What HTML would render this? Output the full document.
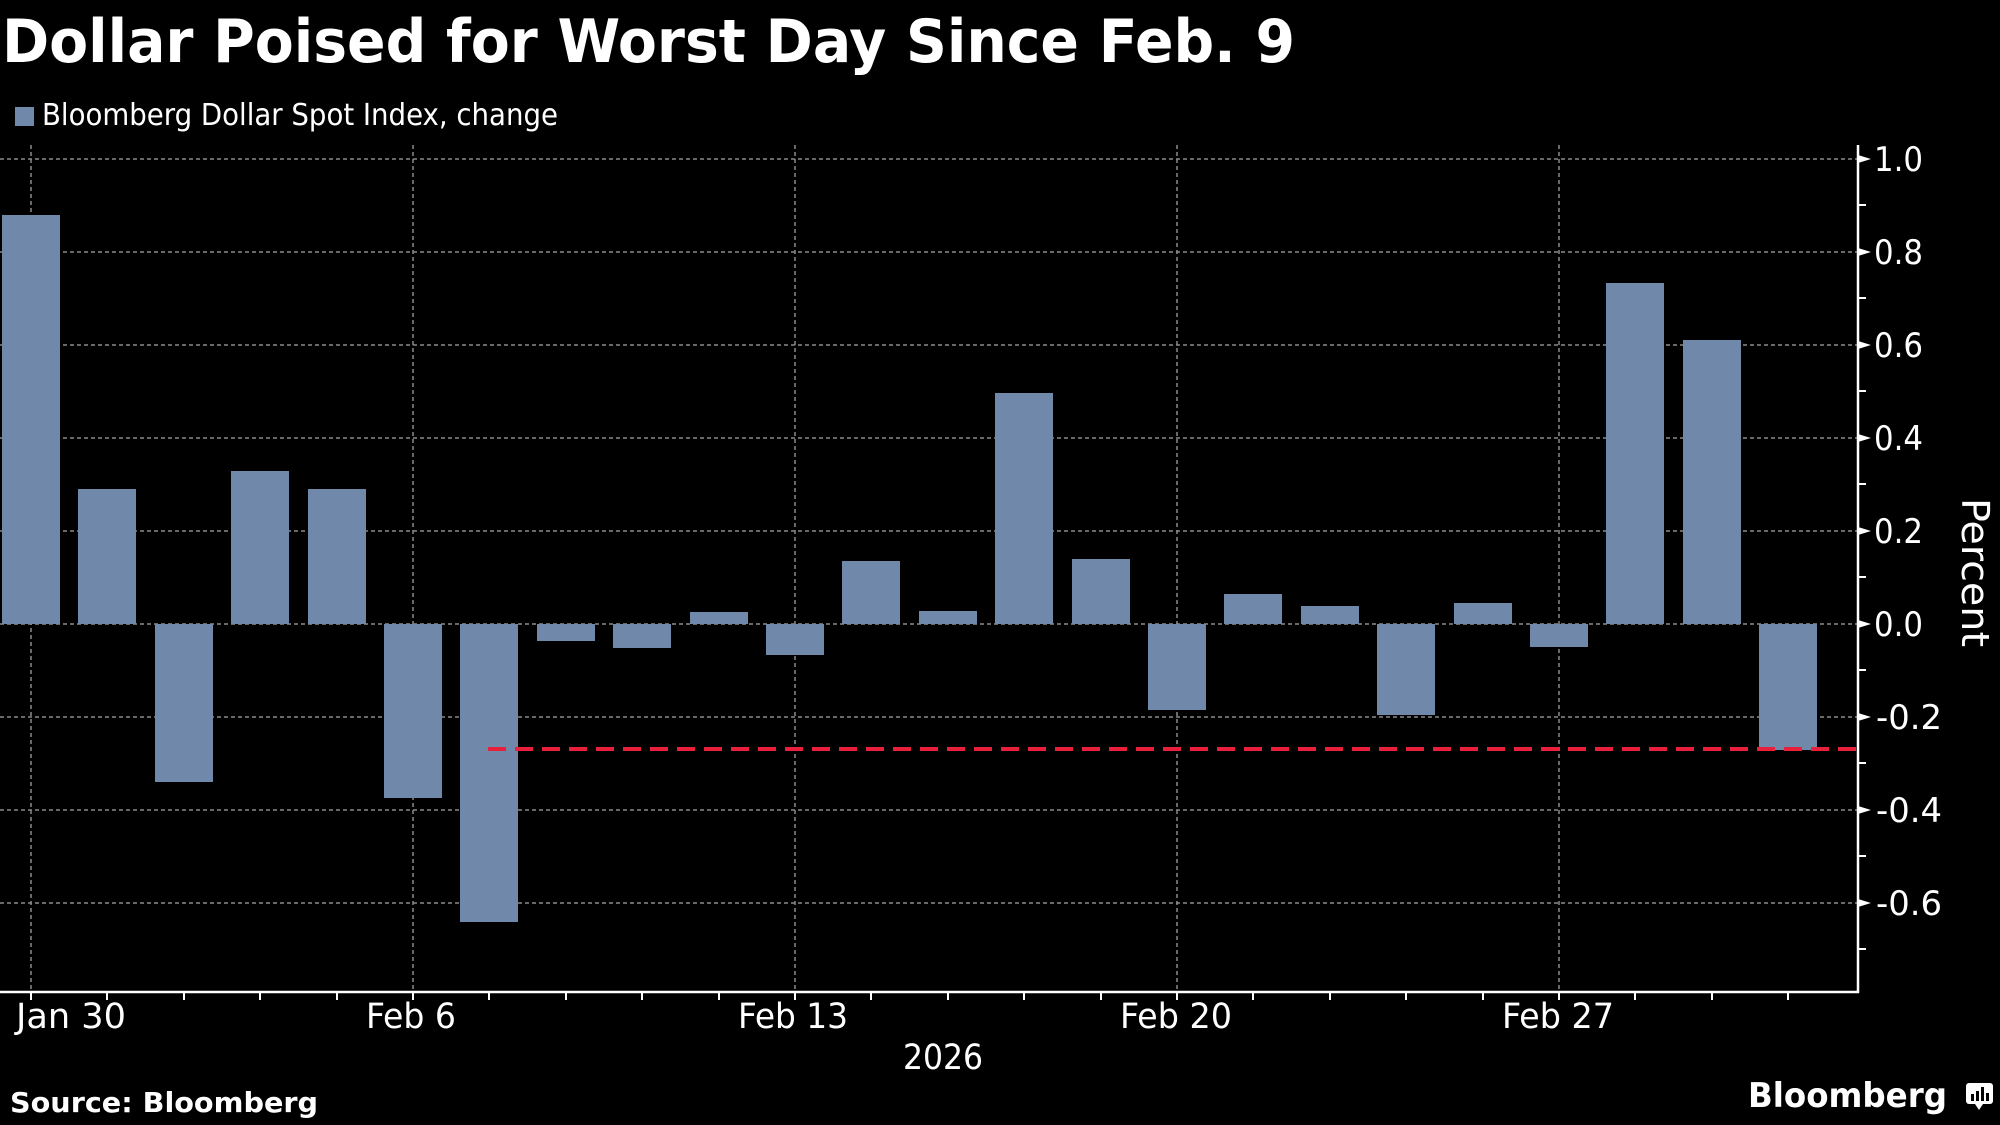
<!DOCTYPE html>
<html><head><meta charset="utf-8"><style>
html,body{margin:0;padding:0;background:#000;}
svg{display:block}
text{font-family:"DejaVu Sans Condensed","Liberation Sans Narrow","Liberation Sans",sans-serif;fill:#fff}
</style></head><body>
<svg width="2000" height="1125" viewBox="0 0 2000 1125" xmlns="http://www.w3.org/2000/svg">
<rect width="2000" height="1125" fill="#000"/>
<text x="2" y="62" font-size="60" font-weight="bold" textLength="1293" lengthAdjust="spacingAndGlyphs">Dollar Poised for Worst Day Since Feb. 9</text>
<rect x="15" y="107" width="19" height="19" fill="#7089ab"/>
<text x="42" y="125" font-size="30" textLength="516" lengthAdjust="spacingAndGlyphs">Bloomberg Dollar Spot Index, change</text>
<g stroke="#8a8a8a" stroke-width="1.5" stroke-dasharray="4,3">
<line x1="0" y1="159" x2="1858" y2="159"/><line x1="0" y1="252" x2="1858" y2="252"/>
<line x1="0" y1="345" x2="1858" y2="345"/><line x1="0" y1="438" x2="1858" y2="438"/>
<line x1="0" y1="531" x2="1858" y2="531"/><line x1="0" y1="624" x2="1858" y2="624"/>
<line x1="0" y1="717" x2="1858" y2="717"/><line x1="0" y1="810" x2="1858" y2="810"/>
<line x1="0" y1="903" x2="1858" y2="903"/>
<line x1="31" y1="145" x2="31" y2="992"/><line x1="413" y1="145" x2="413" y2="992"/>
<line x1="795" y1="145" x2="795" y2="992"/><line x1="1177" y1="145" x2="1177" y2="992"/>
<line x1="1559" y1="145" x2="1559" y2="992"/>
</g>
<g fill="#7089ab">
<rect x="2" y="215" width="58" height="409"/>
<rect x="78" y="489" width="58" height="135"/>
<rect x="155" y="624" width="58" height="158"/>
<rect x="231" y="471" width="58" height="153"/>
<rect x="308" y="489" width="58" height="135"/>
<rect x="384" y="624" width="58" height="174"/>
<rect x="460" y="624" width="58" height="298"/>
<rect x="537" y="624" width="58" height="17"/>
<rect x="613" y="624" width="58" height="24"/>
<rect x="690" y="612" width="58" height="12"/>
<rect x="766" y="624" width="58" height="31"/>
<rect x="842" y="561" width="58" height="63"/>
<rect x="919" y="611" width="58" height="13"/>
<rect x="995" y="393" width="58" height="231"/>
<rect x="1072" y="559" width="58" height="65"/>
<rect x="1148" y="624" width="58" height="86"/>
<rect x="1224" y="594" width="58" height="30"/>
<rect x="1301" y="606" width="58" height="18"/>
<rect x="1377" y="624" width="58" height="91"/>
<rect x="1454" y="603" width="58" height="21"/>
<rect x="1530" y="624" width="58" height="23"/>
<rect x="1606" y="283" width="58" height="341"/>
<rect x="1683" y="340" width="58" height="284"/>
<rect x="1759" y="624" width="58" height="126"/>
</g>
<line x1="488" y1="749" x2="1858" y2="749" stroke="#e8203c" stroke-width="4" stroke-dasharray="18,9"/>
<g stroke="#fff" stroke-width="2.5">
<line x1="0" y1="992" x2="1859" y2="992"/>
<line x1="1858" y1="145" x2="1858" y2="993"/>
</g>
<g stroke="#fff" stroke-width="2">
<line x1="31" y1="992" x2="31" y2="1000"/><line x1="107" y1="992" x2="107" y2="1000"/><line x1="184" y1="992" x2="184" y2="1000"/><line x1="260" y1="992" x2="260" y2="1000"/><line x1="337" y1="992" x2="337" y2="1000"/><line x1="413" y1="992" x2="413" y2="1000"/><line x1="489" y1="992" x2="489" y2="1000"/><line x1="566" y1="992" x2="566" y2="1000"/><line x1="642" y1="992" x2="642" y2="1000"/><line x1="719" y1="992" x2="719" y2="1000"/><line x1="795" y1="992" x2="795" y2="1000"/><line x1="871" y1="992" x2="871" y2="1000"/><line x1="948" y1="992" x2="948" y2="1000"/><line x1="1024" y1="992" x2="1024" y2="1000"/><line x1="1101" y1="992" x2="1101" y2="1000"/><line x1="1177" y1="992" x2="1177" y2="1000"/><line x1="1253" y1="992" x2="1253" y2="1000"/><line x1="1330" y1="992" x2="1330" y2="1000"/><line x1="1406" y1="992" x2="1406" y2="1000"/><line x1="1483" y1="992" x2="1483" y2="1000"/><line x1="1559" y1="992" x2="1559" y2="1000"/><line x1="1635" y1="992" x2="1635" y2="1000"/><line x1="1712" y1="992" x2="1712" y2="1000"/><line x1="1788" y1="992" x2="1788" y2="1000"/>
<line x1="1858" y1="205" x2="1866" y2="205"/><line x1="1858" y1="298" x2="1866" y2="298"/><line x1="1858" y1="391" x2="1866" y2="391"/><line x1="1858" y1="484" x2="1866" y2="484"/><line x1="1858" y1="577" x2="1866" y2="577"/><line x1="1858" y1="670" x2="1866" y2="670"/><line x1="1858" y1="763" x2="1866" y2="763"/><line x1="1858" y1="856" x2="1866" y2="856"/><line x1="1858" y1="949" x2="1866" y2="949"/>
</g>
<g fill="#fff">
<polygon points="1858,155 1871,159 1858,163"/><polygon points="1858,248 1871,252 1858,256"/><polygon points="1858,341 1871,345 1858,349"/><polygon points="1858,434 1871,438 1858,442"/><polygon points="1858,527 1871,531 1858,535"/><polygon points="1858,620 1871,624 1858,628"/><polygon points="1858,713 1871,717 1858,721"/><polygon points="1858,806 1871,810 1858,814"/><polygon points="1858,899 1871,903 1858,907"/>
</g>
<g font-size="34">
<text x="1874" y="171" textLength="49" lengthAdjust="spacingAndGlyphs">1.0</text>
<text x="1874" y="264" textLength="49" lengthAdjust="spacingAndGlyphs">0.8</text>
<text x="1874" y="357" textLength="49" lengthAdjust="spacingAndGlyphs">0.6</text>
<text x="1874" y="450" textLength="49" lengthAdjust="spacingAndGlyphs">0.4</text>
<text x="1874" y="543" textLength="49" lengthAdjust="spacingAndGlyphs">0.2</text>
<text x="1874" y="636" textLength="49" lengthAdjust="spacingAndGlyphs">0.0</text>
<text x="1876" y="729" textLength="66" lengthAdjust="spacingAndGlyphs">-0.2</text>
<text x="1876" y="822" textLength="66" lengthAdjust="spacingAndGlyphs">-0.4</text>
<text x="1876" y="915" textLength="66" lengthAdjust="spacingAndGlyphs">-0.6</text>
</g>
<text transform="translate(1962,498) rotate(90)" font-size="38" textLength="149" lengthAdjust="spacingAndGlyphs">Percent</text>
<g font-size="35">
<text x="16" y="1028" textLength="110" lengthAdjust="spacingAndGlyphs">Jan 30</text>
<text x="366" y="1028" textLength="90" lengthAdjust="spacingAndGlyphs">Feb 6</text>
<text x="738" y="1028" textLength="110" lengthAdjust="spacingAndGlyphs">Feb 13</text>
<text x="1120" y="1028" textLength="112" lengthAdjust="spacingAndGlyphs">Feb 20</text>
<text x="1502" y="1028" textLength="112" lengthAdjust="spacingAndGlyphs">Feb 27</text>
<text x="903" y="1069" textLength="80" lengthAdjust="spacingAndGlyphs">2026</text>
</g>
<text x="10" y="1112" font-size="28" font-weight="bold" textLength="308" lengthAdjust="spacingAndGlyphs">Source: Bloomberg</text>
<text x="1748" y="1107" font-size="34" font-weight="bold" font-family="Liberation Sans, sans-serif" textLength="199" lengthAdjust="spacingAndGlyphs">Bloomberg</text>
<rect x="1966" y="1083" width="27" height="21" rx="3" fill="#fff"/>
<polygon points="1975,1104 1979,1110 1983,1104" fill="#fff"/>
<g fill="#000"><rect x="1971" y="1094" width="3" height="7"/><rect x="1976" y="1091" width="3" height="10"/><rect x="1981" y="1087" width="3" height="14"/><rect x="1986" y="1093" width="3" height="8"/></g>
</svg>
</body></html>
